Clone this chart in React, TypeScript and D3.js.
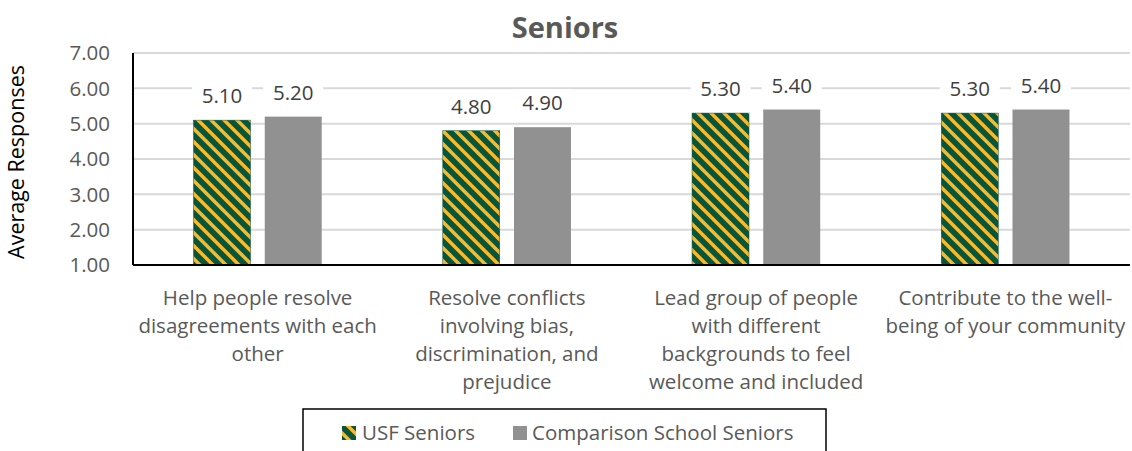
import * as d3 from "d3";
import React from "react";

const categories = [
    ["Help people resolve", "disagreements with each", "other"],
    ["Resolve conflicts", "involving bias,", "discrimination, and", "prejudice"],
    ["Lead group of people", "with different", "backgrounds to feel", "welcome and included"],
    ["Contribute to the well-", "being of your community"],
];
const series = ["USF Seniors", "Comparison School Seniors"];
const usfValues = [5.1, 4.8, 5.3, 5.3];
const comparisonValues = [5.2, 4.9, 5.4, 5.4];
const yTicks = [1, 2, 3, 4, 5, 6, 7];

const font = "'Open Sans', sans-serif";
const grey = "#595959";
const fs = 20.5;

const App: React.FC = () => {
    const width = 1132, height = 451;
    const left = 133, right = 1130, top = 53, bottom = 265;

    const x = d3.scaleBand<number>().domain(d3.range(categories.length)).range([left, right]);
    const xs = d3.scaleBand<string>().domain(series).range([0, x.bandwidth()]).paddingInner(0.2).paddingOuter(0.85);
    const y = d3.scaleLinear().domain([1, 7]).range([bottom, top]);
    const values = [usfValues, comparisonValues];
    const fills = ["url(#usfStripes)", "#919191"];

    return (
        <svg width={width} height={height} style={{ position: "absolute", left: 0, top: 0, background: "white" }} fontFamily={font}>
            <defs>
                <pattern id="usfStripes" patternUnits="userSpaceOnUse" width={13} height={13}>
                    <rect width={13} height={13} fill="#07553a" />
                    <path d="M-3,-3 L16,16 M-3,10 L3,16 M10,-3 L16,3" stroke="#fbb829" strokeWidth={3.5} />
                </pattern>
            </defs>

            <text x={565} y={38} textAnchor="middle" fontSize={29} fontWeight="bold" fill={grey}>Seniors</text>

            {yTicks.slice(1).map(t => (
                <line key={t} x1={left} x2={right} y1={y(t)} y2={y(t)} stroke="#d9d9d9" strokeWidth={2} />
            ))}
            {yTicks.map(t => (
                <text key={t} x={110} y={y(t)} dy="0.35em" textAnchor="end" fontSize={fs} fill={grey}>{t.toFixed(2)}</text>
            ))}

            <text transform={`translate(24, ${(top + bottom) / 2 + 3}) rotate(-90)`} textAnchor="middle" fontSize={21.5} fill="#000">Average Responses</text>

            {categories.map((lines, i) => (
                <g key={i}>
                    {series.map((s, j) => {
                        const v = values[j][i];
                        const bx = x(i)! + xs(s)!;
                        const cx = bx + xs.bandwidth() / 2;
                        const label = v.toFixed(2);
                        return (
                            <g key={s}>
                                <rect x={bx} y={y(v)} width={xs.bandwidth()} height={bottom - y(v)} fill={fills[j]} stroke={j === 0 ? "#07553a" : "none"} strokeWidth={0.5} />
                                <rect x={cx - 30} y={y(v) - 38} width={60} height={28} fill="white" />
                                <text x={cx} y={y(v) - 24} dy="0.35em" textAnchor="middle" fontSize={fs} fill="#404040">{label}</text>
                            </g>
                        );
                    })}
                    {lines.map((ln, k) => (
                        <text key={k} x={x(i)! + x.bandwidth() / 2} y={305 + k * 28} textAnchor="middle" fontSize={fs} fill={grey}>{ln}</text>
                    ))}
                </g>
            ))}

            <line x1={left} x2={left} y1={top} y2={bottom} stroke="#000" strokeWidth={2} />
            <line x1={left} x2={right} y1={bottom} y2={bottom} stroke="#000" strokeWidth={2} />

            <rect x={303} y={409} width={523} height={50} fill="white" stroke="#000" strokeWidth={1.5} />
            <rect x={342} y={426} width={14} height={14} fill="url(#usfStripes)" />
            <text x={362} y={433} dy="0.35em" fontSize={fs} fill={grey}>{series[0]}</text>
            <rect x={513} y={426} width={14} height={14} fill="#919191" />
            <text x={532} y={433} dy="0.35em" fontSize={fs} fill={grey}>{series[1]}</text>
        </svg>
    );
};

export default App;
